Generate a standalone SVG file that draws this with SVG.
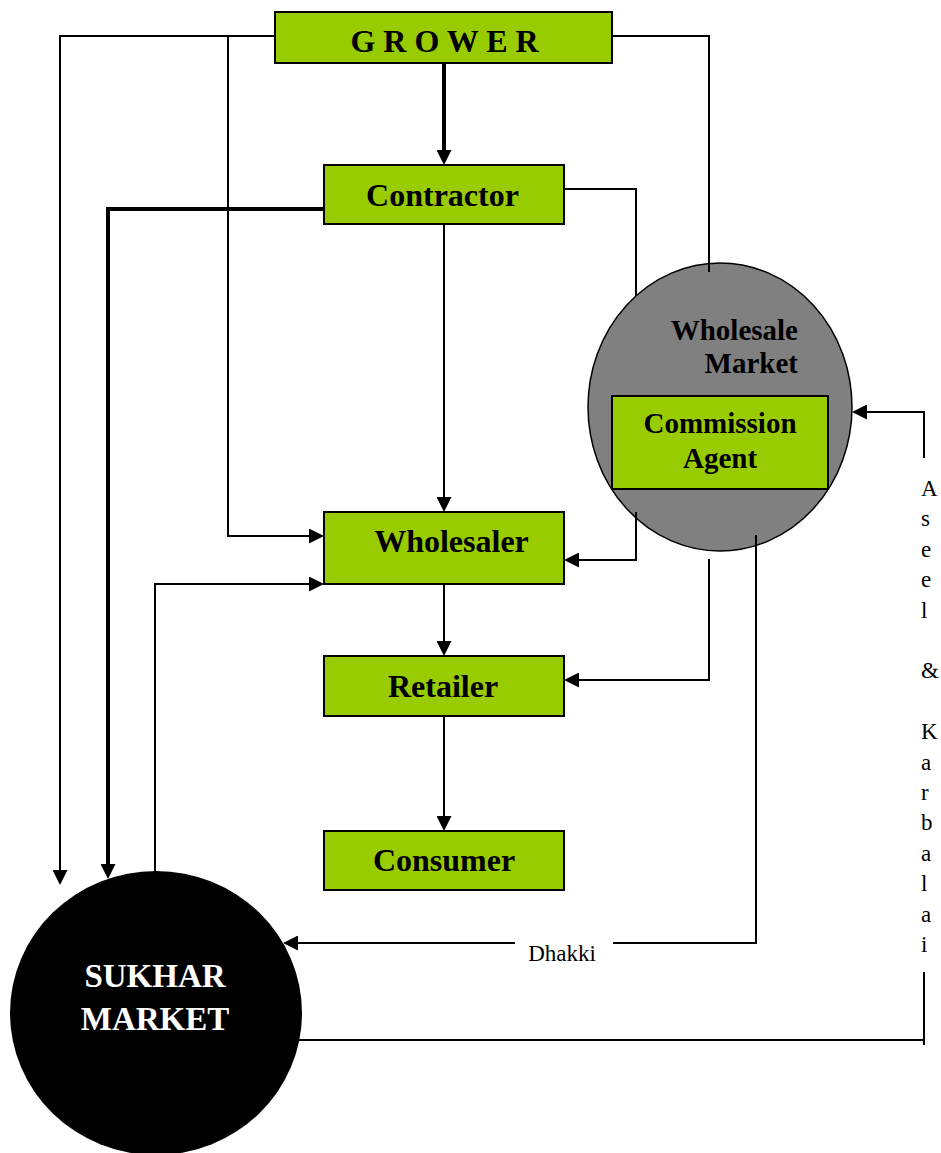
<svg xmlns="http://www.w3.org/2000/svg" width="941" height="1153" viewBox="0 0 941 1153">
<defs>
<style>
.box{fill:#99CC00;stroke:#000;stroke-width:2}
.lbl{font-family:"Liberation Serif","Times New Roman",serif;font-weight:bold;font-size:32px;fill:#000;text-anchor:middle}
.wm{font-family:"Liberation Serif","Times New Roman",serif;font-weight:bold;font-size:29px;fill:#000}
.sk{font-family:"Liberation Serif","Times New Roman",serif;font-weight:bold;font-size:33px;fill:#fff;text-anchor:middle}
.reg{font-family:"Liberation Serif","Times New Roman",serif;font-size:23px;fill:#000}
.thin{fill:none;stroke:#000;stroke-width:2}
.thick{fill:none;stroke:#000;stroke-width:4}
</style>
<marker id="arr" viewBox="0 0 15 15" refX="10" refY="7.5" markerWidth="15" markerHeight="15" markerUnits="userSpaceOnUse" orient="auto">
<path d="M0,0 L15,7.5 L0,15 z" fill="#000"/>
</marker>
</defs>
<rect width="941" height="1153" fill="#fff"/>

<g id="wholesale-market">
<ellipse cx="720" cy="407" rx="132" ry="144" fill="#808080" stroke="#000" stroke-width="1.5"/>
<text class="wm" x="798" y="340" text-anchor="end">Wholesale</text>
<text class="wm" x="798" y="373" text-anchor="end">Market</text>
</g>
<g id="commission-agent">
<rect class="box" x="612" y="396" width="216" height="93"/>
<text class="wm" x="720" y="433" text-anchor="middle">Commission</text>
<text class="wm" x="720" y="468" text-anchor="middle">Agent</text>
</g>
<g id="sukhar-market">
<ellipse cx="156" cy="1013" rx="146" ry="142" fill="#000"/>
<text class="sk" x="155" y="987">SUKHAR</text>
<text class="sk" x="155" y="1030">MARKET</text>
</g>

<g id="connectors">
<path class="thin" d="M275,36 H60 V880" marker-end="url(#arr)"/>
<path class="thin" d="M228,36 V536 H319" marker-end="url(#arr)"/>
<path class="thin" d="M612,36 H709 V272"/>
<path class="thick" d="M444,62 V160" marker-end="url(#arr)"/>
<path class="thick" d="M324,209 H108 V874" marker-end="url(#arr)"/>
<path class="thin" d="M444,224 V507" marker-end="url(#arr)"/>
<path class="thin" d="M564,189 H636 V296"/>
<path class="thin" d="M636,512 V560 H569" marker-end="url(#arr)"/>
<path class="thin" d="M709,559 V680 H569" marker-end="url(#arr)"/>
<path class="thin" d="M756,535 V943 H613"/>
<path class="thin" d="M515,943 H288" marker-end="url(#arr)"/>
<path class="thin" d="M444,584 V651" marker-end="url(#arr)"/>
<path class="thin" d="M444,703 V826" marker-end="url(#arr)"/>
<path class="thin" d="M155,871 V584 H319" marker-end="url(#arr)"/>
<path class="thin" d="M299,1040 H924"/>
<path class="thin" d="M924,972 V1045"/>
<path class="thin" d="M924,458 V412 H857" marker-end="url(#arr)"/>
<text class="reg" x="562" y="961" text-anchor="middle">Dhakki</text>
<text class="reg" x="921" y="496"><tspan x="921">A</tspan><tspan x="921" dy="30.4">s</tspan><tspan x="921" dy="30.4">e</tspan><tspan x="921" dy="30.4">e</tspan><tspan x="921" dy="30.4">l</tspan><tspan x="921" dy="60.8">&amp;</tspan><tspan x="921" dy="60.8">K</tspan><tspan x="921" dy="30.4">a</tspan><tspan x="921" dy="30.4">r</tspan><tspan x="921" dy="30.4">b</tspan><tspan x="921" dy="30.4">a</tspan><tspan x="921" dy="30.4">l</tspan><tspan x="921" dy="30.4">a</tspan><tspan x="921" dy="30.4">i</tspan></text>
</g>

<g id="grower">
<rect class="box" x="275" y="12" width="337" height="51"/>
<text class="lbl" x="444.5" y="52" xml:space="preserve">G R O W E R</text>
</g>
<g id="contractor">
<rect class="box" x="324" y="165" width="240" height="59"/>
<text class="lbl" x="442.5" y="206">Contractor</text>
</g>
<g id="wholesaler">
<rect class="box" x="324" y="512" width="240" height="72"/>
<text class="lbl" x="451.5" y="552">Wholesaler</text>
</g>
<g id="retailer">
<rect class="box" x="324" y="656" width="240" height="60"/>
<text class="lbl" x="443" y="697">Retailer</text>
</g>
<g id="consumer">
<rect class="box" x="324" y="831" width="240" height="59"/>
<text class="lbl" x="444" y="871">Consumer</text>
</g>
</svg>
